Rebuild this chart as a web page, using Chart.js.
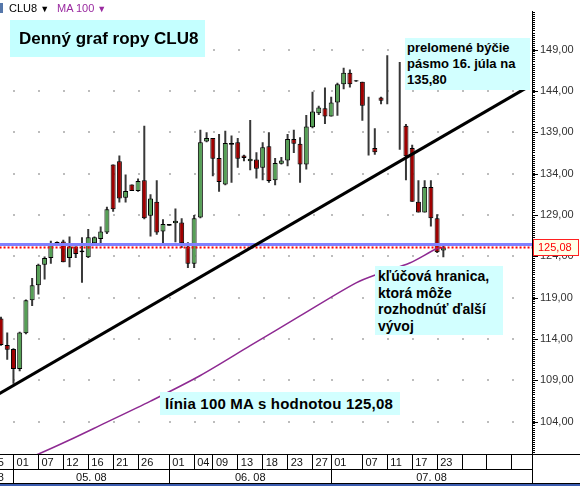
<!DOCTYPE html>
<html>
<head>
<meta charset="utf-8">
<script src="https://cdn.jsdelivr.net/npm/chart.js@4.4.1/dist/chart.umd.min.js"></script>
<style>
html,body{margin:0;padding:0;background:#fff;overflow:hidden;}
#wrap{position:relative;width:580px;height:486px;overflow:hidden;}
#c{position:absolute;left:0;top:0;}
#frame{position:absolute;left:0;top:484px;width:580px;height:2px;background:#3a5cb0;}
.hdr{position:absolute;top:2px;font:11px "Liberation Sans",Arial,sans-serif;white-space:nowrap;}
.icon{position:absolute;left:-4px;top:3px;width:7px;height:10px;background:#5577aa;}
.note{position:absolute;font-family:"Liberation Sans",Arial,sans-serif;font-weight:bold;color:#000;white-space:nowrap;}
</style>
</head>
<body>
<div id="wrap">
  <canvas id="c" width="580" height="484"></canvas>
  <div id="frame"></div>
  <div class="icon"></div>
  <div class="hdr" style="left:9px;color:#000;">CLU8 <span style="font-size:9px">&#9660;</span></div>
  <div class="hdr" style="left:57px;color:#9a2aa0;">MA 100 <span style="font-size:9px">&#9660;</span></div>
  <div class="note" style="left:10px;top:20px;width:195px;height:37px;background:#c4ffff;font-size:17px;line-height:37px;padding-left:9px;box-sizing:border-box;">Denný graf ropy CLU8</div>
  <div class="note" style="left:405px;top:38px;width:125px;height:52px;background:#d2ffff;font-size:13px;line-height:16px;padding:2px 0 0 2px;box-sizing:border-box;">prelomené býčie<br>pásmo 16. júla na<br>135,80</div>
  <div class="note" style="left:375px;top:266px;width:128px;height:69px;background:#d2ffff;font-size:14px;line-height:16.5px;padding:2px 0 0 3px;box-sizing:border-box;">kľúčová hranica,<br>ktorá môže<br>rozhodnúť ďalší<br>vývoj</div>
  <div class="note" style="left:160px;top:392px;width:240px;height:23px;background:#d2ffff;font-size:15px;letter-spacing:0.2px;line-height:23px;padding-left:5px;box-sizing:border-box;">línia 100 MA s hodnotou 125,08</div>
</div>
<script>
// ---------- data ----------
const candleSlots = [2,3,4,5,6,7,8,9,10,11,12,13,14,15,16,17,18,19,20,21,22,23,24,25,26,27,28,29,30,31,32,33,34,35,36,37,38,39,40,41,42,43,44,45,46,47,48,49,50,51,52,53,54,55,56,57,58,59,60,61,62,63,64,66,67,68,69,70,71,72,73];
const opens  = [116.5,113.3,112.8,110.4,114.7,118.7,120.5,123.0,123.8,125.6,125.8,123.8,125.2,124.7,123.9,125.6,126.1,126.9,135.1,135.5,131.1,132.7,131.9,133.2,128.9,130.6,127.0,127.9,128.0,128.1,125.2,123.1,128.7,137.9,138.3,135.9,132.7,137.5,137.8,136.2,135.5,135.7,134.7,137.3,133.2,135.2,135.6,138.2,137.6,135.1,139.6,141.3,141.9,140.9,142.6,144.8,146.2,145.3,145.1,139.0,137.1,143.2,145.0,141.0,139.8,137.1,130.6,129.3,132.4,128.6,124.7];
const highs  = [116.7,114.8,112.9,114.9,118.8,121.4,123.1,124.0,125.9,125.8,126.0,126.4,125.2,126.3,127.3,126.4,127.6,130.0,135.1,136.2,133.9,132.7,133.4,139.8,131.5,133.2,128.5,127.9,129.8,128.6,125.7,129.0,139.3,139.0,138.3,138.8,139.2,138.6,138.3,136.3,140.5,136.6,137.8,139.0,135.9,136.0,138.8,139.3,138.4,141.1,143.9,142.2,144.4,143.3,145.0,146.8,146.6,145.3,145.1,143.3,139.5,143.3,148.3,147.5,140.0,137.5,133.2,133.2,133.2,129.1,125.4];
const lows   = [113.2,111.5,108.6,110.1,114.6,118.0,119.4,121.2,123.1,125.5,123.3,122.7,123.8,120.8,123.8,125.4,125.6,126.7,129.4,130.5,130.5,131.9,131.8,128.5,126.4,126.6,125.6,127.7,125.7,125.0,122.6,122.6,128.6,137.8,133.7,131.8,132.6,132.9,134.7,135.5,134.4,133.4,133.2,132.9,132.6,135.1,134.9,136.5,132.9,134.5,139.5,141.1,140.0,140.9,141.0,144.2,144.4,145.1,140.4,136.2,136.3,142.4,142.4,136.9,133.2,130.6,129.3,129.3,127.6,124.4,123.9];
const closes = [113.3,112.7,110.4,114.8,118.7,120.5,123.0,123.8,125.6,125.75,123.3,125.2,124.3,124.5,126.3,126.3,127.0,129.7,129.7,131.0,131.9,131.9,133.1,128.6,131.0,126.9,127.9,127.7,128.3,125.6,123.1,128.6,137.8,138.3,135.8,133.0,137.7,137.7,135.8,135.9,135.8,134.6,137.2,133.1,135.3,135.6,138.2,137.6,135.1,139.7,141.5,142.0,140.9,142.6,144.8,146.2,144.8,145.15,142.2,139.0,136.6,142.8,145.0,141.0,136.1,130.6,129.3,132.4,128.6,124.5,125.08];

const maSlots  = [5, 8.3, 13, 18, 26, 34, 42, 50, 59, 63, 67.6, 72, 73];
const maValues = [99.2, 100.2, 101.8, 103.6, 106.5, 109.6, 113.2, 116.8, 120.8, 122.0, 123.2, 124.95, 125.08];

const trendSlots  = [0, 86.4];
const trendValues = [106.65, 144.4];

const supportLevel = 125.45;
const lastPrice = 125.08;

const boxSlots  = [0,4,8,12,16,20,24,29,33,36,40,44,48,52,55,60,64,68,72,76,80,84];
const boxLabels = ['25','01','07','12','16','21','26','01','04','09','13','18','23','27','01','07','11','17','23','','',''];
const monthSlots = [4,29,55];
const monthLabelSlots = [0,16.5,42,71.1];
const monthLabels = ['04. 08','05. 08','06. 08','07. 08'];
const yMajorTicks = [104,109,114,119,124,129,134,139,144,149];

const X_MIN = 1.84, X_MAX = 87.23, Y_MIN = 100.11, Y_MAX = 153.59;

// ---------- styles ----------
const UP = '#56a056', DOWN = '#a00000', WICK = '#383838';
const FONT = '"Liberation Sans", Arial, sans-serif';

const wickData = candleSlots.map((s,i)=>({x:s, y:[lows[i], highs[i]]}));
const bodyData = candleSlots.map((s,i)=>({x:s, y:[opens[i], closes[i]]}));
const bodyColors = candleSlots.map((s,i)=> closes[i] >= opens[i] ? UP : DOWN);

const fmt = v => v.toFixed(2).replace('.', ',');

const minorTicks = [];
for (let v = Math.ceil(Y_MIN*4)/4; v <= Y_MAX; v += 0.25) minorTicks.push(Math.round(v*100)/100);

const decor = {
  id: 'decor',
  beforeDatasetsDraw(chart) {
    const {ctx, scales:{x, y}} = chart;
    ctx.save();
    ctx.fillStyle = '#bdbdbd';
    boxSlots.forEach(s => {
      const px = x.getPixelForValue(s);
      if (px < 0 || px > chart.chartArea.right) return;
      yMajorTicks.forEach(v => {
        const py = y.getPixelForValue(v);
        ctx.fillRect(Math.round(px), Math.round(py)-1, 2, 2);
      });
    });
    ctx.restore();
  },
  afterDraw(chart) {
    const {ctx, chartArea, scales:{x, x2, y}} = chart;
    ctx.save();
    ctx.strokeStyle = '#000'; ctx.lineWidth = 1;
    yMajorTicks.forEach(v => {
      const py = Math.round(y.getPixelForValue(v)) + 0.5;
      ctx.beginPath(); ctx.moveTo(chartArea.right, py); ctx.lineTo(chartArea.right + 6, py); ctx.stroke();
    });
    ctx.beginPath();
    const ty = Math.round(x.top) + 0.5;
    ctx.moveTo(chartArea.right, ty); ctx.lineTo(chart.width, ty); ctx.stroke();
    ctx.beginPath();
    const by = Math.round(x2.bottom) - 0.5;
    ctx.moveTo(0, by); ctx.lineTo(chart.width, by); ctx.stroke();
    const py = y.getPixelForValue(lastPrice);
    const lx = chartArea.right + 1;
    ctx.fillStyle = '#ffffe8';
    ctx.fillRect(lx, Math.round(py) - 8, 46, 17);
    ctx.strokeStyle = '#ff2020';
    ctx.strokeRect(lx + 0.5, Math.round(py) - 7.5, 45, 16);
    ctx.fillStyle = '#ff0000';
    ctx.font = '11px ' + FONT;
    ctx.textBaseline = 'middle';
    ctx.textAlign = 'left';
    ctx.fillText(fmt(lastPrice), lx + 5, Math.round(py) + 0.5);
    ctx.restore();
  }
};

new Chart(document.getElementById('c'), {
  data: {
    datasets: [
      { type:'line', label:'trend', data: trendSlots.map((s,i)=>({x:s, y:trendValues[i]})),
        borderColor:'#000', borderWidth:3, pointRadius:0, order:0, clip:0 },
      { type:'line', label:'support', data:[{x:X_MIN-2, y:supportLevel},{x:X_MAX+2, y:supportLevel}],
        borderColor:'#8080ff', borderWidth:3, pointRadius:0, order:1, clip:0 },
      { type:'line', label:'last', data:[{x:X_MIN-2, y:lastPrice},{x:X_MAX+2, y:lastPrice}],
        borderColor:'#ff0000', borderWidth:2, borderDash:[2,2], pointRadius:0, order:1, clip:0 },
      { type:'line', label:'MA 100', data: maSlots.map((s,i)=>({x:s, y:maValues[i]})),
        borderColor:'#8e2a92', borderWidth:1.5, pointRadius:0, tension:0.3, order:2, clip:0 },
      { type:'bar', label:'body', data: bodyData, backgroundColor: bodyColors, borderColor:'#000',
        borderWidth:1, borderSkipped:false, barThickness:5, grouped:false, inflateAmount:0, order:3 },
      { type:'bar', label:'wick', data: wickData, backgroundColor: WICK, borderWidth:0,
        barThickness:2, grouped:false, inflateAmount:0, order:4 }
    ]
  },
  options: {
    responsive:false, animation:false, devicePixelRatio:1,
    layout:{ padding:0 },
    plugins:{ legend:{display:false}, tooltip:{enabled:false} },
    scales:{
      x:{ type:'linear', position:'bottom', min:X_MIN, max:X_MAX, weight:1, offset:false,
          afterBuildTicks: s => { s.ticks = boxSlots.concat([X_MAX]).map(v=>({value:v})); },
          afterFit: s => { s.height = 15; },
          grid:{ drawOnChartArea:false, drawTicks:true, tickLength:15, color:'#000', tickColor:'#000', offset:false },
          border:{ display:true, color:'#000', width:1 },
          ticks:{ autoSkip:false, maxRotation:0, align:'start', padding:-13, color:'#111',
                  font:{family:FONT, size:11},
                  callback:(v, i) => i < boxLabels.length ? ' ' + boxLabels[i] : '' } },
      x2:{ type:'linear', position:'bottom', min:X_MIN, max:X_MAX, weight:2, offset:false,
          afterBuildTicks: s => { s.ticks = monthSlots.concat([X_MAX]).concat(monthLabelSlots).map(v=>({value:v})); },
          afterFit: s => { s.height = 15; },
          grid:{ drawOnChartArea:false, drawTicks:true, tickLength:15, offset:false,
                 color: c => c.index <= monthSlots.length ? '#000' : 'rgba(0,0,0,0)',
                 tickColor: c => c.index <= monthSlots.length ? '#000' : 'rgba(0,0,0,0)' },
          border:{ display:true, color:'#000', width:1 },
          ticks:{ autoSkip:false, maxRotation:0, align:'center', padding:-13, color:'#111',
                  font:{family:FONT, size:11},
                  callback:(v, i) => i > monthSlots.length ? monthLabels[i - monthSlots.length - 1] : '' } },
      y:{ type:'linear', position:'right', min:Y_MIN, max:Y_MAX,
          afterBuildTicks: s => { s.ticks = minorTicks.map(v=>({value:v})); },
          afterFit: s => { s.width = 48; },
          grid:{ drawOnChartArea:false, drawTicks:true, tickLength:3, color:'#000', tickColor:'#000' },
          border:{ display:true, color:'#000', width:1 },
          ticks:{ autoSkip:false, padding:5, color:'#333', font:{family:FONT, size:11},
                  callback: v => yMajorTicks.includes(v) ? fmt(v) : '' } }
    }
  },
  plugins:[decor]
});
</script>
</body>
</html>
